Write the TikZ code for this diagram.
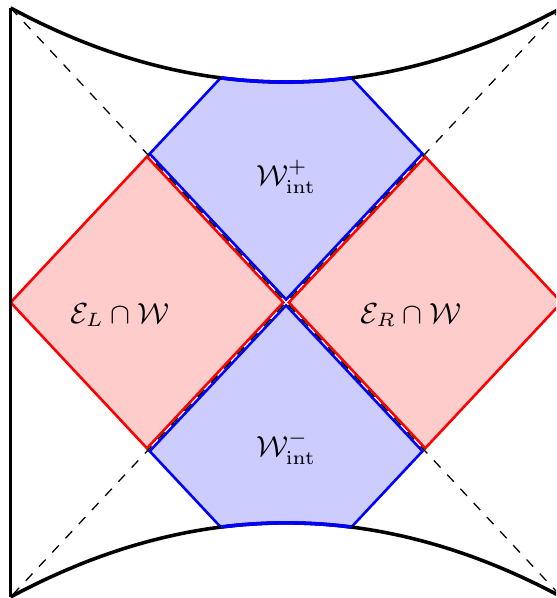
\documentclass[tikz,border=0pt]{standalone}
\usepackage{amsmath}
\begin{document}
\begin{tikzpicture}[x=1.5cm,y=1.6035cm,
  bdry/.style={line width=1.1pt,black},
  horizon/.style={dashed,black,line width=0.4pt},
  redreg/.style={fill=red!20,draw=red,line width=0.8pt,line join=miter},
  bluereg/.style={fill=blue!20,draw=blue,line width=0.8pt,line join=miter},
  lbl/.style={font=\small}]
\clip (-2.077,-2.007) rectangle (1.961,2.054);
% corners
\coordinate (TL) at (-2,2);
\coordinate (TR) at (2,2);
\coordinate (BL) at (-2,-2);
\coordinate (BR) at (2,-2);
% red regions (slightly shrunk away from the horizons)
\path[redreg] (-2,0) -- (-1.01,0.99) -- (-0.02,0) -- (-1.01,-0.99) -- cycle;
\path[redreg] (2,0) -- (1.01,0.99) -- (0.02,0) -- (1.01,-0.99) -- cycle;
% blue regions
\path[bluereg] (0,0.02) -- (-0.99,1.01) -- (-0.4747,1.5253)
  -- plot[domain=-0.4747:0.4747,samples=30,smooth] (\x,{1.497+0.12575*\x*\x})
  -- (0.99,1.01) -- cycle;
\path[bluereg] (0,-0.02) -- (-0.99,-1.01) -- (-0.4747,-1.5253)
  -- plot[domain=-0.4747:0.4747,samples=30,smooth] (\x,{-1.497-0.12575*\x*\x})
  -- (0.99,-1.01) -- cycle;
% horizons
\draw[horizon] (TL) -- (BR);
\draw[horizon] (TR) -- (BL);
% boundaries and singularities
\draw[bdry] (TL) -- (BL);
\draw[bdry] (TR) -- (BR);
\draw[bdry] (TL) .. controls (-0.6667,1.3293) and (0.6667,1.3293) .. (TR);
\draw[bdry] (BL) .. controls (-0.6667,-1.3293) and (0.6667,-1.3293) .. (BR);
% blue arcs on top of singularity
\draw[blue,line width=1.1pt] plot[domain=-0.4747:0.4747,samples=30,smooth] (\x,{1.497+0.12575*\x*\x});
\draw[blue,line width=1.1pt] plot[domain=-0.4747:0.4747,samples=30,smooth] (\x,{-1.497-0.12575*\x*\x});
% labels
\node[lbl] (wp) at (0,0.852) {$\mathcal{W}^+_{\rm int}$};
\node[lbl] (wm) at (0,-0.988) {$\mathcal{W}^-_{\rm int}$};
\node[lbl] (el) at (-1.208,-0.085) {$\mathcal{E}_L\cap\mathcal{W}$};
\node[lbl] (er) at (0.908,-0.085) {$\mathcal{E}_R\cap\mathcal{W}$};
\end{tikzpicture}
\end{document}
